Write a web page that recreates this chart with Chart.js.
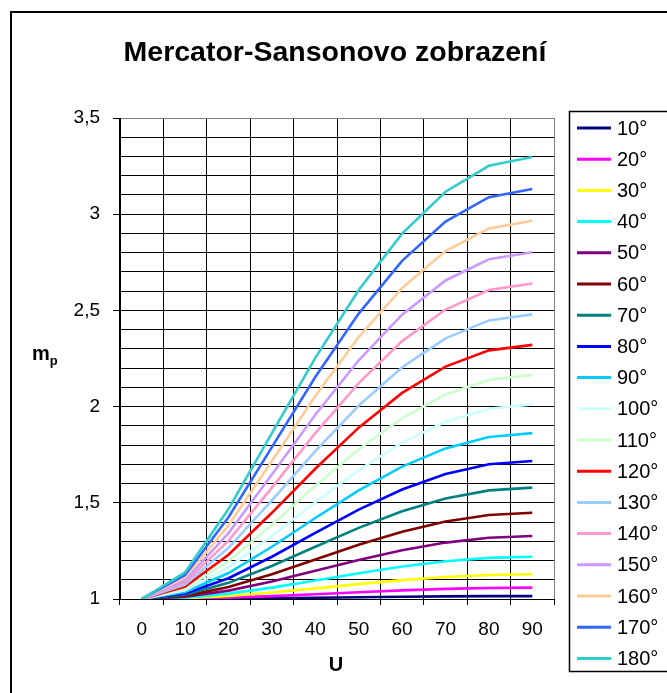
<!DOCTYPE html>
<html>
<head>
<meta charset="utf-8">
<script src="https://cdn.jsdelivr.net/npm/chart.js@4/dist/chart.umd.min.js"></script>
<style>
html,body{margin:0;padding:0;background:#fff;}
#wrap{position:relative;width:667px;height:693px;overflow:hidden;}
</style>
</head>
<body>
<div id="wrap"><canvas id="c" width="667" height="693"></canvas></div>
<script>
// ---- data ----
const titleText = 'Mercator-Sansonovo zobrazení';
const xTitle = 'U';
const categories = ['0','10','20','30','40','50','60','70','80','90'];
const seriesLabels = ['10°','20°','30°','40°','50°','60°','70°','80°','90°','100°','110°','120°','130°','140°','150°','160°','170°','180°'];
const seriesColors = ['#000080','#FF00FF','#FFFF00','#00FFFF','#800080','#800000','#008080','#0000FF','#00CCFF','#CCFFFF','#CCFFCC','#FF0000','#99CCFF','#FF99CC','#CC99FF','#FFCC99','#3366FF','#33CCCC'];

const v10  = [1, 1.0005, 1.0018, 1.0038, 1.0063, 1.0089, 1.0114, 1.0134, 1.0147, 1.0151];
const v20  = [1, 1.0018, 1.0071, 1.0151, 1.0249, 1.0351, 1.0447, 1.0524, 1.0574, 1.0592];
const v30  = [1, 1.0041, 1.0159, 1.0337, 1.0551, 1.0774, 1.0980, 1.1145, 1.1251, 1.1288];
const v40  = [1, 1.0073, 1.0281, 1.0592, 1.0961, 1.1340, 1.1686, 1.1960, 1.2135, 1.2196];
const v50  = [1, 1.0114, 1.0436, 1.0910, 1.1466, 1.2029, 1.2535, 1.2932, 1.3185, 1.3272];
const v60  = [1, 1.0164, 1.0622, 1.1288, 1.2054, 1.2820, 1.3500, 1.4030, 1.4365, 1.4480];
const v70  = [1, 1.0223, 1.0838, 1.1718, 1.2715, 1.3696, 1.4558, 1.5225, 1.5645, 1.5788];
const v80  = [1, 1.0290, 1.1082, 1.2196, 1.3437, 1.4643, 1.5691, 1.6497, 1.7002, 1.7174];
const v90  = [1, 1.0365, 1.1352, 1.2716, 1.4211, 1.5646, 1.6884, 1.7829, 1.8420, 1.8621];
const v100 = [1, 1.0449, 1.1646, 1.3272, 1.5029, 1.6696, 1.8124, 1.9209, 1.9885, 2.0115];
const v110 = [1, 1.0541, 1.1963, 1.3862, 1.5884, 1.7785, 1.9402, 2.0627, 2.1388, 2.1647];
const v120 = [1, 1.0641, 1.2301, 1.4480, 1.6770, 1.8906, 2.0712, 2.2076, 2.2922, 2.3209];
const v130 = [1, 1.0748, 1.2658, 1.5123, 1.7683, 2.0053, 2.2048, 2.3549, 2.4480, 2.4795];
const v140 = [1, 1.0863, 1.3032, 1.5788, 1.8619, 2.1222, 2.3405, 2.5044, 2.6058, 2.6402];
const v150 = [1, 1.0985, 1.3423, 1.6473, 1.9575, 2.2410, 2.4780, 2.6556, 2.7654, 2.8025];
const v160 = [1, 1.1114, 1.3828, 1.7174, 2.0548, 2.3614, 2.6170, 2.8082, 2.9263, 2.9662];
const v170 = [1, 1.1249, 1.4247, 1.7891, 2.1535, 2.4832, 2.7573, 2.9620, 3.0883, 3.1311];
const v180 = [1, 1.1391, 1.4678, 1.8621, 2.2534, 2.6061, 2.8987, 3.1169, 3.2515, 3.2969];
const allSeries = [v10,v20,v30,v40,v50,v60,v70,v80,v90,v100,v110,v120,v130,v140,v150,v160,v170,v180];

const yMin = 1, yMax = 3.5, yMinorStep = 0.1, yMajorStep = 0.5;

// ---- chart ----
const FONT = "'Liberation Sans', Arial, sans-serif";
const isMajor = v => Math.abs(v / yMajorStep - Math.round(v / yMajorStep)) < 1e-6;

const datasets = allSeries.map((vals, i) => ({
  label: seriesLabels[i],
  data: vals,
  borderColor: seriesColors[i],
  backgroundColor: seriesColors[i],
  borderWidth: 2.6,
  pointRadius: 0,
  tension: 0,
  fill: false,
  order: allSeries.length - i
}));

const decor = {
  id: 'decor',
  afterDraw(chart) {
    const ctx = chart.ctx;
    ctx.save();
    // outer frame
    ctx.strokeStyle = '#000';
    ctx.lineWidth = 2;
    ctx.strokeRect(11, 12, 700, 700);
    // title
    ctx.fillStyle = '#000';
    ctx.textAlign = 'center';
    ctx.textBaseline = 'alphabetic';
    ctx.font = 'bold 28.5px ' + FONT;
    ctx.fillText(titleText, 335, 61);
    // x axis title
    ctx.font = 'bold 20px ' + FONT;
    ctx.fillText(xTitle, 336, 671);
    // y axis title m_p
    ctx.textAlign = 'left';
    ctx.font = 'bold 20px ' + FONT;
    ctx.fillText('m', 32, 360);
    const mw = ctx.measureText('m').width;
    ctx.font = 'bold 13px ' + FONT;
    ctx.fillText('p', 32 + mw, 365);
    // legend
    ctx.lineWidth = 1.5;
    ctx.strokeRect(569.5, 111.5, 200, 560);
    ctx.font = '20px ' + FONT;
    ctx.textBaseline = 'middle';
    chart.data.datasets.forEach((ds, i) => {
      const y = 128 + i * 31.2;
      ctx.strokeStyle = ds.borderColor;
      ctx.lineWidth = 3;
      ctx.beginPath();
      ctx.moveTo(577, y);
      ctx.lineTo(611, y);
      ctx.stroke();
      ctx.fillStyle = '#000';
      ctx.fillText(ds.label, 617, y + 1);
    });
    ctx.restore();
  }
};

new Chart(document.getElementById('c'), {
  type: 'line',
  data: { labels: categories, datasets },
  options: {
    responsive: false,
    animation: false,
    events: [],
    layout: { padding: { left: 0, right: 113, top: 118, bottom: 0 } },
    plugins: { legend: { display: false }, title: { display: false }, tooltip: { enabled: false } },
    scales: {
      x: {
        type: 'category',
        offset: true,
        grid: {
          offset: true,
          color: c => (c.tick ? '#000' : '#808080'),
          tickColor: '#000',
          tickLength: 6,
          lineWidth: 1
        },
        border: { color: '#000', width: 1 },
        ticks: { color: '#000', font: { family: FONT, size: 19 }, padding: 13, maxRotation: 0, autoSkip: false },
        afterFit: s => { s.height = 94; }
      },
      y: {
        type: 'linear',
        min: yMin,
        max: yMax,
        grid: {
          color: c => (c.tick && Math.abs(c.tick.value - yMax) < 1e-6 ? '#808080' : '#000'),
          tickColor: c => (c.tick && isMajor(c.tick.value) ? '#000' : 'rgba(0,0,0,0)'),
          tickLength: 7,
          lineWidth: 1
        },
        border: { color: '#000', width: 1 },
        ticks: {
          stepSize: yMinorStep,
          autoSkip: false,
          color: '#000',
          font: { family: FONT, size: 19 },
          padding: 13,
          callback: v => (isMajor(v) ? String(Math.round(v * 10) / 10).replace('.', ',') : '')
        },
        afterFit: s => { s.width = 120; }
      }
    }
  },
  plugins: [decor]
});
</script>
</body>
</html>
